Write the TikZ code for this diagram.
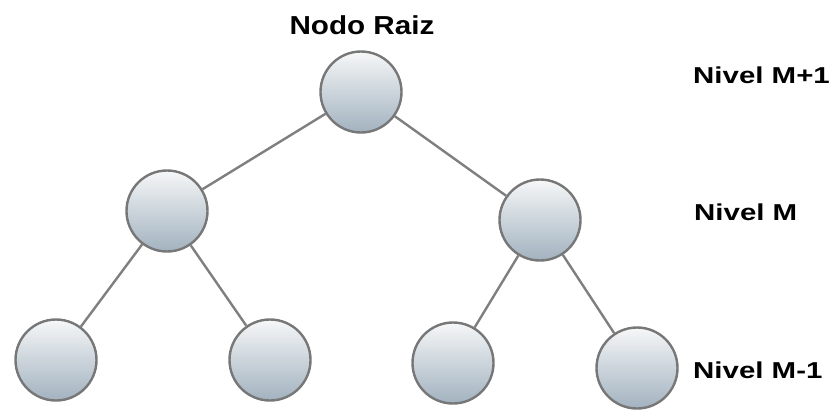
\documentclass[tikz,border=0pt]{standalone}
\usepackage{fontspec}
\setmainfont{Liberation Sans}
\newfontfamily\titlefont[FakeStretch=1.14]{Liberation Sans}
\newfontfamily\levelfont[FakeStretch=1.28]{Liberation Sans}
\definecolor{edgegray}{HTML}{7F7F7F}
\definecolor{ringgray}{HTML}{777777}
\definecolor{nodetop}{HTML}{F6F7F8}
\definecolor{nodebottom}{HTML}{A2B2BF}
\begin{document}
\begin{tikzpicture}[x=1pt,y=-1pt,
  treenode/.style={circle, draw=ringgray, line width=2.4pt, minimum size=81pt, inner sep=0pt,
    top color=nodetop, bottom color=nodebottom},
  link/.style={draw=edgegray, line width=2.4pt},
  lvl/.style={anchor=west, font=\levelfont\bfseries\fontsize{23}{27}\selectfont, inner sep=0pt}]
  \useasboundingbox (0,0) rectangle (834,410);
  % tree nodes
  \node[treenode] (root) at (361,92) {};
  \node[treenode] (ml) at (167,211) {};
  \node[treenode] (mr) at (540,220) {};
  \node[treenode] (l1) at (56,360) {};
  \node[treenode] (l2) at (270,360) {};
  \node[treenode] (l3) at (453,363) {};
  \node[treenode] (l4) at (637,368) {};
  % connectors
  \draw[link] (root) -- (ml);
  \draw[link] (root) -- (mr);
  \draw[link] (ml) -- (l1);
  \draw[link] (ml) -- (l2);
  \draw[link] (mr) -- (l3);
  \draw[link] (mr) -- (l4);
  % labels
  \node[font=\titlefont\bfseries\fontsize{26}{30}\selectfont, inner sep=0pt] (title) at (362,25) {Nodo Raiz};
  \node[lvl] (n1) at (693,75) {Nivel M+1};
  \node[lvl] (n2) at (694,212) {Nivel M};
  \node[lvl] (n3) at (693,370) {Nivel M-1};
\end{tikzpicture}
\end{document}
